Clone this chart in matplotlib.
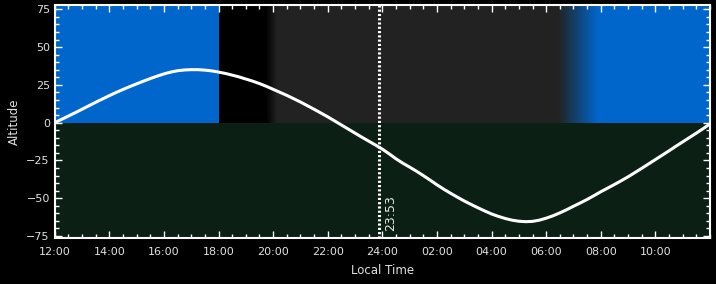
from matplotlib import pyplot
import matplotlib.ticker as ticker
import numpy

# hours after 12:00 local time, altitude in degrees
hours = numpy.arange(0, 24.25, 0.25)
altitude = [0, 2.2, 4.4, 6.6, 8.9, 11.2, 13.5, 15.7, 17.9, 20.0, 22.0, 23.9,
            25.7, 27.5, 29.2, 30.8, 32.3, 33.5, 34.4, 34.9, 35.1, 35.1, 34.8, 34.3,
            33.5, 32.6, 31.5, 30.3, 28.9, 27.5, 25.9, 24.1, 22.1, 20.1, 18.1, 15.9,
            13.7, 11.3, 8.9, 6.4, 3.9, 1.2, -1.5, -4.2, -6.9, -9.6, -12.2, -14.8,
            -17.5, -20.6, -23.9, -26.8, -29.4, -32.1, -35.0, -38.0, -41.1, -44.0, -46.7, -49.3,
            -51.8, -54.1, -56.3, -58.4, -60.4, -62.0, -63.4, -64.5, -65.2, -65.5, -65.3, -64.5,
            -63.2, -61.6, -59.7, -57.6, -55.3, -53.1, -50.8, -48.3, -45.7, -43.3, -40.9, -38.4,
            -35.8, -33.0, -30.2, -27.3, -24.4, -21.5, -18.6, -15.6, -12.7, -9.8, -6.9, -3.9, -0.8]
tick_labels = ['12:00', '14:00', '16:00', '18:00', '20:00', '22:00', '24:00',
               '02:00', '04:00', '06:00', '08:00', '10:00']
marker_time = 11 + 53/60
marker_label = '23:53'

# sky phases above the horizon (hours after 12:00)
day_end = 6.0
dusk_from, dusk_to = 7.75, 8.12
dawn_from, dawn_to = 18.45, 19.9

day_blue = numpy.array([0, 102, 204]) / 255
night_grey = numpy.array([34, 34, 34]) / 255
black = numpy.array([0, 0, 0])
ground = '#0b1f15'
y_lo, y_hi = -76.3, 77.9

fig = pyplot.figure(figsize = (7.16, 2.84), dpi = 100, facecolor = 'black')
ax = fig.add_axes([0.0764, 0.162, 0.9152, 0.8204])
ax.set_facecolor(ground)

ax.fill_between([0, day_end], 0, y_hi, color = day_blue, lw = 0, zorder = 0)
ax.fill_between([day_end, dusk_from], 0, y_hi, color = black, lw = 0, zorder = 0)
ax.fill_between([dusk_to, dawn_from], 0, y_hi, color = night_grey, lw = 0, zorder = 0)
ax.fill_between([dawn_to, 24], 0, y_hi, color = day_blue, lw = 0, zorder = 0)

t = numpy.linspace(0, 1, 200)[None, :, None]
ax.imshow(black + (night_grey - black) * t, extent = [dusk_from, dusk_to, 0, y_hi],
          aspect = 'auto', zorder = 0, interpolation = 'bilinear')
ax.imshow(night_grey + (day_blue - night_grey) * t, extent = [dawn_from, dawn_to, 0, y_hi],
          aspect = 'auto', zorder = 0, interpolation = 'bilinear')
ax.set_xlim(0, 24)
ax.set_ylim(y_lo, y_hi)

ax.plot(hours, altitude, color = 'white', linewidth = 2.2, zorder = 3,
        solid_joinstyle = 'round', solid_capstyle = 'round')
ax.axvline(marker_time, color = 'white', linewidth = 2.2, linestyle = (0, (0.7, 0.7)), zorder = 4)
ax.text(marker_time + 0.2, -60, marker_label, rotation = 90, color = '#e8e8e8',
        fontsize = 9, ha = 'left', va = 'center', zorder = 5)

ax.xaxis.set_major_locator(ticker.FixedLocator(range(0, 24, 2)))
ax.xaxis.set_major_formatter(ticker.FixedFormatter(tick_labels))
ax.xaxis.set_minor_locator(ticker.MultipleLocator(0.5))
ax.yaxis.set_major_locator(ticker.MultipleLocator(25))
ax.yaxis.set_minor_locator(ticker.MultipleLocator(5))
ax.tick_params(which = 'both', direction = 'in', colors = 'white', labelcolor = '#e0e0e0',
               top = True, right = True, labelsize = 8, width = 1)
ax.tick_params(which = 'major', length = 5)
ax.tick_params(which = 'minor', length = 3)
ax.tick_params(axis = 'x', which = 'major', pad = 6.5)
for s in ax.spines.values():
    s.set_color('white')
    s.set_linewidth(1.5)

ax.set_xlabel('Local Time', color = '#e0e0e0', fontsize = 8.5, labelpad = 5)
ax.set_ylabel('Altitude', color = '#e0e0e0', fontsize = 8.5)

fig.savefig('out.png', facecolor = 'black')
